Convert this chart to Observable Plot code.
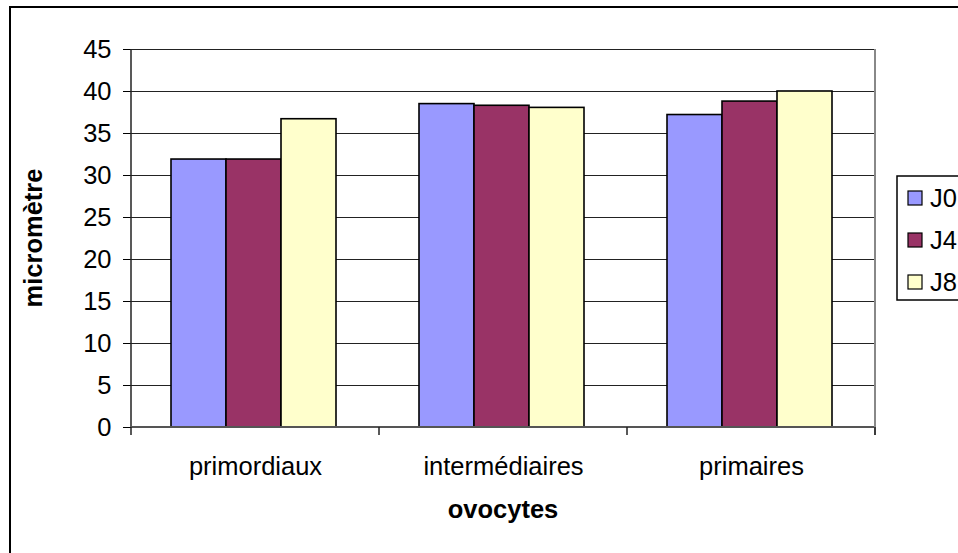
<!DOCTYPE html>
<html><head><meta charset="utf-8">
<script src="https://cdn.jsdelivr.net/npm/d3@7"></script>
<script src="https://cdn.jsdelivr.net/npm/@observablehq/plot@0.6"></script>
<style>
body{margin:0;background:#fff}
#chart{position:relative;width:958px;height:553px;overflow:hidden}
</style>
</head><body><div id="chart"></div>
<script>
const categories = ["primordiaux", "intermédiaires", "primaires"];
const series = ["J0", "J4", "J8"];
const valuesJ0 = [31.9, 38.5, 37.2];
const valuesJ4 = [31.9, 38.3, 38.8];
const valuesJ8 = [36.7, 38.05, 40.0];
const yTicks = [0, 5, 10, 15, 20, 25, 30, 35, 40, 45];
const colors = ["#9999FF", "#993366", "#FFFFCC"];
const xTitle = "ovocytes";
const yTitle = "micromètre";

const seriesValues = [valuesJ0, valuesJ4, valuesJ8];
const data = categories.flatMap((c, i) => series.map((s, j) => ({category: c, series: s, value: seriesValues[j][i]})));

const font = "'Liberation Sans', Arial, sans-serif";
const fs = 25.5;
const plot = Plot.plot({
  width: 958, height: 553,
  marginLeft: 130, marginRight: 82, marginTop: 49, marginBottom: 126,
  style: {fontFamily: font, fontSize: fs + "px", color: "#000", background: "transparent", overflow: "visible"},
  fx: {domain: categories, padding: 0, label: null, axis: "bottom", tickSize: 0, tickPadding: 29},
  x: {domain: series, paddingInner: 0, paddingOuter: 0.75, axis: null},
  y: {domain: [0, 45], ticks: yTicks, label: null, tickSize: 8, tickPadding: 12},
  color: {domain: series, range: colors},
  marks: [
    Plot.ruleY(yTicks.filter(d => d > 0), {stroke: "#222", strokeWidth: 1.2}),
    Plot.barY(data, {fx: "category", x: "series", y: "value", fill: "series", stroke: "#000", strokeWidth: 1.6, dx: -2})
  ]
});
document.getElementById("chart").appendChild(plot);

const svg = d3.select(plot);
const ys = plot.scale("y");
const fxs = plot.scale("fx");
const y0 = ys.apply(0), yTop = ys.apply(45);
const left = fxs.apply(categories[0]);
const right = fxs.apply(categories[categories.length - 1]) + fxs.step;
const g = svg.append("g");
// axes lines
g.append("line").attr("x1", left).attr("x2", left).attr("y1", yTop).attr("y2", y0).attr("stroke", "#222").attr("stroke-width", 1.5);
g.append("line").attr("x1", left).attr("x2", right).attr("y1", y0).attr("y2", y0).attr("stroke", "#555").attr("stroke-width", 2);
g.append("line").attr("x1", right).attr("x2", right).attr("y1", yTop).attr("y2", y0 + 8).attr("stroke", "#888").attr("stroke-width", 2);
const bounds = categories.map(c => fxs.apply(c)).concat([right]);
bounds.forEach(b => g.append("line").attr("x1", b).attr("x2", b).attr("y1", y0).attr("y2", y0 + 8).attr("stroke", "#222").attr("stroke-width", 1.5));
// outer frame
g.append("rect").attr("x", 10).attr("y", 7).attr("width", 1000).attr("height", 700).attr("fill", "none").attr("stroke", "#000").attr("stroke-width", 2);
// titles
g.append("text").attr("x", (left + right) / 2).attr("y", 518).attr("text-anchor", "middle")
  .attr("font-family", font).attr("font-size", fs).attr("font-weight", "bold").text(xTitle);
g.append("text").attr("transform", `translate(42,${(yTop + y0) / 2}) rotate(-90)`).attr("text-anchor", "middle")
  .attr("font-family", font).attr("font-size", fs).attr("font-weight", "bold").text(yTitle);
// legend
g.append("rect").attr("x", 897).attr("y", 176).attr("width", 100).attr("height", 124).attr("fill", "#fff").attr("stroke", "#000").attr("stroke-width", 1.5);
const legendY = [198, 240, 282];
series.forEach((s, i) => {
  g.append("rect").attr("x", 908).attr("y", legendY[i] - 7).attr("width", 14).attr("height", 14)
    .attr("fill", colors[i]).attr("stroke", "#000").attr("stroke-width", 1.2);
  g.append("text").attr("x", 930).attr("y", legendY[i]).attr("dy", "0.36em").attr("text-anchor", "start")
    .attr("font-family", font).attr("font-size", fs).text(s);
});
</script>
</body></html>
